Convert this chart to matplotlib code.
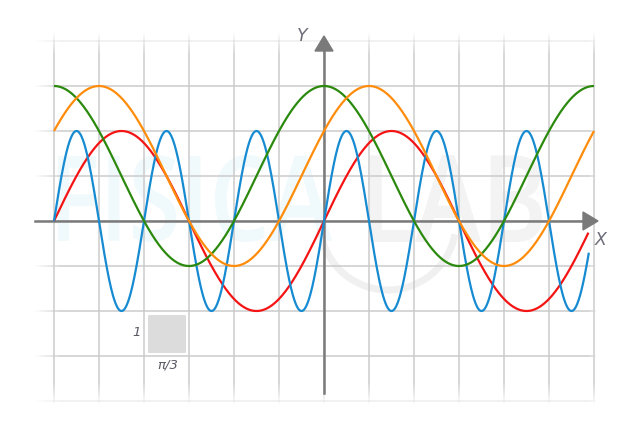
import numpy as np
import matplotlib
matplotlib.use("Agg")
import matplotlib.pyplot as plt
from matplotlib.patches import Polygon, FancyBboxPatch, Arc, PathPatch
from matplotlib.textpath import TextPath
from matplotlib.font_manager import FontProperties
from matplotlib.transforms import Affine2D
#
# --------------------------------------------------------------------- #
# Curves : y = offset + amp * trig(freq * x - phase)
names = ["red", "blue", "green", "orange"]
funcs = ["sin", "sin", "cos", "cos"]
amps = [2, 2, 2, 2]
freqs = [1, 3, 1, 1]
phases = [0, 0, 0, np.pi / 3]
offsets = [0, 0, 1, 1]
x_starts = [-2 * np.pi, -2 * np.pi, -2 * np.pi, -2 * np.pi]
x_ends = [2 * np.pi - 0.13, 2 * np.pi - 0.12, 2 * np.pi, 2 * np.pi]
colors = ["#f41414", "#168bd2", "#2b8a0e", "#ff8c0a"]
#
# grid : one cell = pi/3 by 1
x_ticks = np.arange(-6, 7) * np.pi / 3
y_ticks = np.arange(-4, 5)
#
# --------------------------------------------------------------------- #
W, H = 620, 428
x0px, y0px = 324, 221          # origin in pixels
sx = 135 / np.pi               # px per radian
sy = 45.0                      # px per unit

fig = plt.figure(figsize=(W / 100, H / 100), dpi=100)
ax = fig.add_axes([0, 0, 1, 1])
ax.set_xlim(-x0px / sx, (W - x0px) / sx)
ax.set_ylim((y0px - H) / sy, y0px / sy)
ax.axis("off")

def px(v):
    return (v - x0px) / sx

def py(v):
    return (y0px - v) / sy

def faded(xa, ya, xb, yb, color, lw, fa=0.0, fb=0.0, alpha=1.0):
    # line from a to b, alpha ramps over fraction fa at start / fb at end
    t = np.linspace(0, 1, 200)
    for i in range(len(t) - 1):
        tm = (t[i] + t[i + 1]) / 2
        a = 1.0
        if fa > 0 and tm < fa:
            a = tm / fa
        if fb > 0 and tm > 1 - fb:
            a = (1 - tm) / fb
        ax.plot([xa + (xb - xa) * t[i], xa + (xb - xa) * t[i + 1]],
                [ya + (yb - ya) * t[i], ya + (yb - ya) * t[i + 1]],
                color=color, lw=lw, alpha=a * alpha, solid_capstyle="butt", zorder=1)

def boxed_text(s, left, right, top, bottom, color):
    # text path stretched into a pixel box
    tp = TextPath((0, 0), s, size=100, prop=FontProperties(family="Open Sans", weight="semibold"))
    ext = tp.get_extents()
    tr = (Affine2D().translate(-ext.x0, -ext.y0)
          .scale((px(right) - px(left)) / ext.width, (py(top) - py(bottom)) / ext.height)
          .translate(px(left), py(bottom)))
    ax.add_patch(PathPatch(tr.transform_path(tp), fc=color, ec="none", zorder=0))

# watermark
boxed_text("FISICA", 58, 332, 155, 242, "#f0f9fc")
boxed_text("LAB", 370, 542, 155, 242, "#f3f3f3")
ax.add_patch(Arc((px(388), py(222)), 2 * 68 / sx, 2 * 68 / sy, theta1=185, theta2=350,
                 color="#f0f0f0", lw=5, zorder=0))

# grid
gcol = "#cbcbcb"
for xt in x_ticks:
    faded(xt, py(405), xt, py(32), gcol, 1.1, fa=0.06, fb=0.06)
for yt in y_ticks:
    a = 0.35 if abs(yt) == 4 else 1.0
    faded(px(34), yt, px(596), yt, gcol, 1.1, fa=0.05, fb=0.01, alpha=a)

# axes with arrows
acol = "#7a7a7a"
ax.plot([px(35), px(585)], [0, 0], color=acol, lw=1.8, zorder=2)
ax.plot([0, 0], [py(393), py(48)], color=acol, lw=1.8, zorder=2)
ax.add_patch(Polygon([[px(598), 0], [px(583), py(212)], [px(583), py(230)]],
                     closed=True, color=acol, zorder=2))
ax.add_patch(Polygon([[0, py(36)], [px(315), py(51)], [px(333), py(51)]],
                     closed=True, color=acol, zorder=2))
ax.text(px(601), py(240), "X", fontsize=12.5, style="italic", color="#6e6e7a",
        ha="center", va="center", zorder=3)
ax.text(px(302), py(36), "Y", fontsize=12.5, style="italic", color="#6e6e7a",
        ha="center", va="center", zorder=3)

# unit square
ax.add_patch(FancyBboxPatch((px(148), py(353)), 38 / sx, 38 / sy,
                            boxstyle="round,pad=0,rounding_size=0.03",
                            fc="#dcdcdd", ec="none", zorder=2))
ax.text(px(137), py(333), "1", fontsize=9.5, style="italic", color="#5a5a66",
        ha="center", va="center", zorder=3)
ax.text(px(168), py(365), "\u03c0/3", fontsize=9.5, style="italic", color="#5a5a66",
        ha="center", va="center", zorder=3)

# curves
for name, f, a, k, ph, off, xs, xe, c in zip(names, funcs, amps, freqs, phases,
                                            offsets, x_starts, x_ends, colors):
    x = np.linspace(xs, xe, 1200)
    trig = np.sin if f == "sin" else np.cos
    ax.plot(x, off + a * trig(k * x - ph), color=c, lw=1.6, zorder=4,
            solid_capstyle="butt")

fig.savefig("out.png", dpi=100)
